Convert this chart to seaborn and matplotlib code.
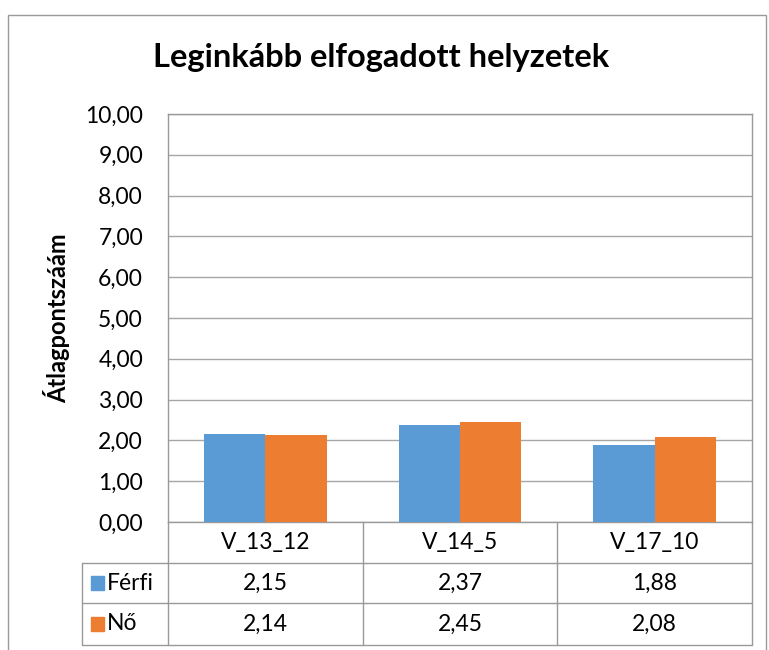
import numpy as np
import pandas as pd
import matplotlib
matplotlib.use("Agg")
import matplotlib.pyplot as plt
import matplotlib.transforms as mtransforms
from matplotlib.patches import Rectangle
from matplotlib.ticker import FuncFormatter, MultipleLocator
import seaborn as sns

# data
categories = ["V_13_12", "V_14_5", "V_17_10"]
series_names = ["Férfi", "Nő"]
ferfi_values = [2.15, 2.37, 1.88]
no_values = [2.14, 2.45, 2.08]
colors = ["#5B9BD5", "#ED7D31"]

title = "Leginkább elfogadott helyzetek"
ylabel = "Átlagpontszáám"

df = pd.DataFrame({
    "kat": categories * 2,
    "nem": [series_names[0]] * 3 + [series_names[1]] * 3,
    "ertek": ferfi_values + no_values,
})

sns.set_theme(style="white")
plt.rcParams["font.family"] = ["Lato", "DejaVu Sans"]
plt.rcParams["text.color"] = "#000000"
plt.rcParams["axes.labelcolor"] = "#000000"

fig = plt.figure(figsize=(7.69, 6.5), dpi=100)
W, H = 769, 650
ax = fig.add_axes([168 / W, 1 - 522 / H, (752 - 168) / W, (522 - 114) / H])

grid_col = "#A6A6A6"
line_col = "#999999"
fs = 16.5

sns.barplot(data=df, x="kat", y="ertek", hue="nem", palette=colors,
            width=0.63, saturation=1, ax=ax, legend=False, zorder=3,
            edgecolor="none")

ax.set_xlim(-0.5, 2.5)
ax.set_ylim(0, 10)
ax.yaxis.set_major_locator(MultipleLocator(1))
ax.yaxis.set_major_formatter(FuncFormatter(lambda v, p: f"{v:.2f}".replace(".", ",")))
ax.grid(axis="y", color=grid_col, linewidth=1.0, zorder=0)
ax.set_axisbelow(True)
ax.set_xticks([])
ax.set_xlabel("")
ax.tick_params(axis="y", length=0, pad=18, labelsize=fs, labelcolor="#000000")
ax.set_ylabel(ylabel, fontsize=17, fontweight="bold", labelpad=11)
for s in ax.spines.values():
    s.set_color(line_col)
    s.set_linewidth(1.0)

# data table below the plot
trans = mtransforms.blended_transform_factory(ax.transData, ax.transAxes)
ah = 522 - 114
row_y = [0, -(563 - 522) / ah, -(603 - 522) / ah, -(645 - 522) / ah]
left_col = -(168 - 82) / (752 - 168)
tbl = dict(color=line_col, linewidth=1.0, clip_on=False)

# horizontal lines
for y in row_y[1:]:
    ax.plot([left_col, 1], [y, y], transform=ax.transAxes, **tbl)
# vertical lines
ax.plot([0, 0], [0, row_y[-1]], transform=ax.transAxes, **tbl)
ax.plot([1, 1], [0, row_y[-1]], transform=ax.transAxes, **tbl)
ax.plot([left_col, left_col], [row_y[1], row_y[-1]], transform=ax.transAxes, **tbl)
for b in np.arange(len(categories) - 1) + 0.5:
    ax.plot([b, b], [0, row_y[-1]], transform=trans, **tbl)

# header row
for i, c in enumerate(categories):
    ax.text(i, (row_y[0] + row_y[1]) / 2, c, transform=trans, ha="center",
            va="center", fontsize=fs)

# value rows
for r, (name, vals, col) in enumerate(zip(series_names, [ferfi_values, no_values], colors)):
    yc = (row_y[r + 1] + row_y[r + 2]) / 2
    for i, v in enumerate(vals):
        ax.text(i, yc, f"{v:.2f}".replace(".", ","), transform=trans,
                ha="center", va="center", fontsize=fs)
    ax.add_patch(Rectangle((left_col + 9 / 584, yc - 7 / ah), 13 / 584, 14 / ah,
                           transform=ax.transAxes, color=col, clip_on=False))
    ax.text(left_col + 25 / 584, yc, name, transform=ax.transAxes,
            ha="left", va="center", fontsize=fs)

fig.suptitle(title, x=381 / W, y=1 - 58 / H, va="center",
             fontsize=23.5, fontweight="bold", color="#000000")

# outer chart border
fig.patches.append(Rectangle((8 / W, -0.01), 758 / W, 1 - 15 / H + 0.01,
                             transform=fig.transFigure, fill=False,
                             edgecolor="#9A9A9A", linewidth=1.0))

fig.savefig("out.png", dpi=100, facecolor="white")
